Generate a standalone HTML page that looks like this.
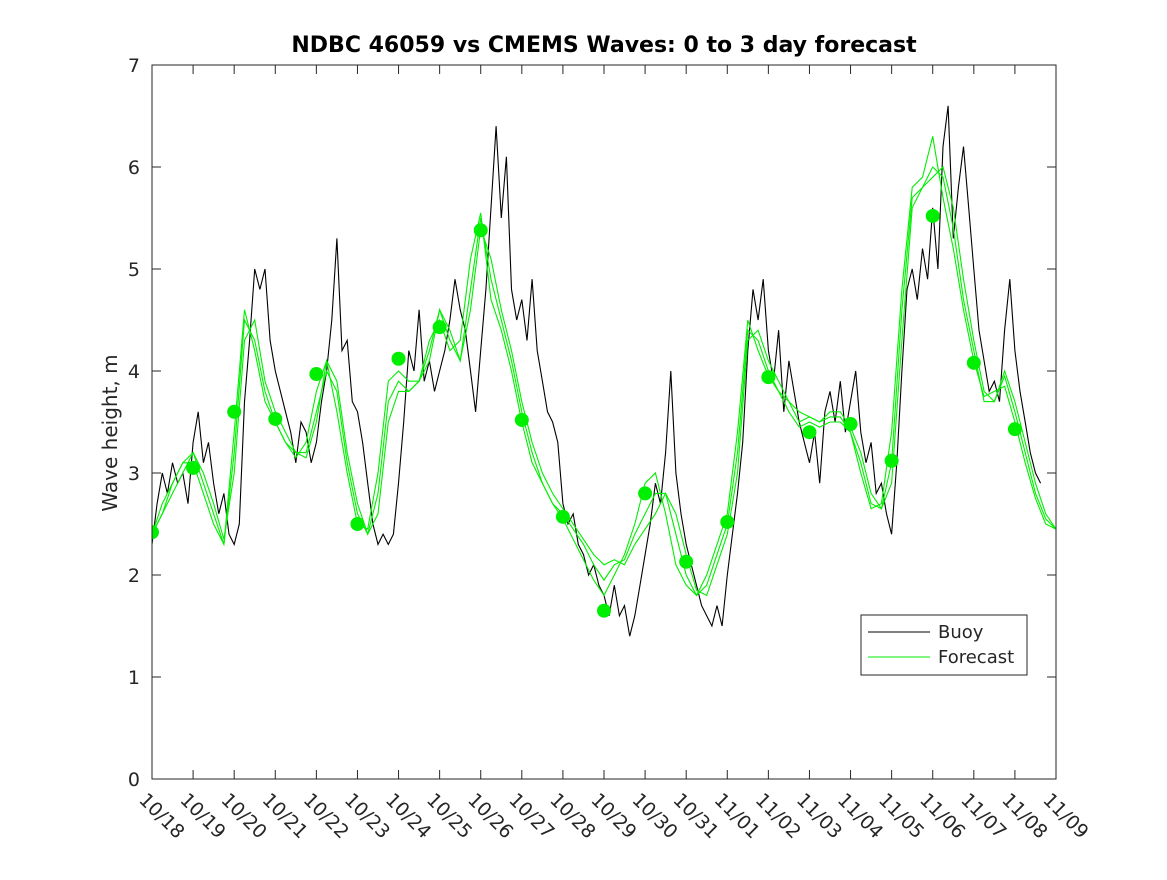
<!DOCTYPE html>
<html><head><meta charset="utf-8"><style>
body{margin:0;background:#fff;}
svg text{font-family:"DejaVu Sans","Liberation Sans",sans-serif;fill:#262626;}
</style></head><body>
<svg id="chart" width="1167" height="875" xmlns="http://www.w3.org/2000/svg">
<rect width="1167" height="875" fill="#fff"/>
<text x="604" y="52" text-anchor="middle" font-size="22" font-weight="bold" style="fill:#000">NDBC 46059 vs CMEMS Waves: 0 to 3 day forecast</text>
<text transform="translate(117,433) rotate(-90)" text-anchor="middle" font-size="20">Wave height, m</text>
<g id="grid"></g>
<defs><clipPath id="pc"><rect x="152" y="65" width="904" height="714"/></clipPath></defs>
<g id="marks" clip-path="url(#pc)"></g>
<rect x="152" y="65" width="904" height="714" fill="none" stroke="#262626" stroke-width="1"/>
<g>
<rect x="861" y="615" width="166" height="60" fill="#fff" stroke="#262626"/>
<line x1="868" y1="632" x2="930" y2="632" stroke="#000"/>
<text x="938" y="638" font-size="18">Buoy</text>
<line x1="868" y1="657" x2="930" y2="657" stroke="#00ee00"/>
<text x="938" y="663" font-size="18">Forecast</text>
</g>
</svg>
<script>
const xTickLabels=["10/18","10/19","10/20","10/21","10/22","10/23","10/24","10/25","10/26","10/27","10/28","10/29","10/30","10/31","11/01","11/02","11/03","11/04","11/05","11/06","11/07","11/08","11/09"];
const yTicks=[0,1,2,3,4,5,6,7];
const dotValues=[2.42,3.05,3.6,3.53,3.97,2.5,4.12,4.43,5.38,3.52,2.57,1.65,2.8,2.13,2.52,3.94,3.4,3.48,3.12,5.52,4.08,3.43];
const forecastA=[2.4,2.7,2.9,3.1,3.1,2.8,2.5,2.3,3.4,4.6,4.2,3.7,3.5,3.3,3.15,3.3,3.8,4.1,3.6,3.0,2.5,2.45,3.0,3.9,4.0,3.9,3.9,4.3,4.5,4.2,4.3,5.1,5.55,4.7,4.4,4.0,3.5,3.1,2.9,2.7,2.55,2.35,2.15,1.95,1.8,2.0,2.2,2.5,2.9,3.0,2.6,2.1,1.9,1.8,2.0,2.3,2.6,3.4,4.5,4.2,3.95,3.8,3.6,3.45,3.5,3.45,3.5,3.5,3.4,3.0,2.65,2.7,3.4,4.8,5.8,5.9,6.3,5.7,5.2,4.6,4.1,3.75,3.8,3.85,3.5,3.1,2.75,2.5,2.45];
const forecastB=[2.4,2.6,2.9,3.1,3.2,2.9,2.6,2.3,3.2,4.5,4.3,3.8,3.5,3.3,3.2,3.2,3.6,4.0,3.8,3.1,2.6,2.4,2.8,3.7,3.9,3.8,3.9,4.2,4.6,4.3,4.1,4.8,5.5,4.9,4.5,4.1,3.6,3.2,2.9,2.7,2.6,2.45,2.3,2.1,1.95,2.1,2.15,2.4,2.6,2.8,2.8,2.4,2.0,1.8,1.9,2.2,2.5,3.2,4.4,4.3,4.0,3.8,3.7,3.5,3.55,3.5,3.55,3.55,3.4,3.1,2.7,2.65,3.1,4.6,5.7,5.8,6.0,5.9,5.4,4.7,4.2,3.7,3.7,3.95,3.6,3.2,2.8,2.55,2.45];
const forecastC=[2.4,2.6,2.8,3.0,3.2,3.0,2.7,2.35,3.0,4.3,4.5,3.9,3.6,3.4,3.2,3.15,3.5,4.1,3.9,3.2,2.7,2.4,2.6,3.5,3.8,3.8,3.9,4.1,4.6,4.4,4.1,4.6,5.4,5.1,4.6,4.2,3.7,3.3,3.0,2.8,2.65,2.5,2.35,2.2,2.1,2.15,2.1,2.3,2.45,2.6,2.8,2.6,2.2,1.85,1.8,2.1,2.4,3.0,4.3,4.4,4.1,3.9,3.7,3.6,3.55,3.5,3.6,3.6,3.45,3.2,2.8,2.65,2.9,4.3,5.6,5.8,5.9,6.0,5.6,4.9,4.3,3.8,3.7,4.0,3.7,3.3,2.9,2.6,2.45];
const buoy=[2.3,2.7,3.0,2.8,3.1,2.9,3.0,2.7, 3.3,3.6,3.1,3.3,2.9,2.6,2.8,2.4, 2.3,2.5,3.7,4.3,5.0,4.8,5.0,4.3, 4.0,3.8,3.6,3.4,3.1,3.5,3.4,3.1, 3.3,3.7,4.0,4.5,5.3,4.2,4.3,3.7, 3.6,3.3,2.9,2.5,2.3,2.4,2.3,2.4, 2.9,3.5,4.2,4.0,4.6,3.9,4.1,3.8, 4.0,4.2,4.5,4.9,4.6,4.4,4.0,3.6, 4.2,4.8,5.6,6.4,5.5,6.1,4.8,4.5, 4.7,4.3,4.9,4.2,3.9,3.6,3.5,3.3, 2.7,2.5,2.6,2.3,2.2,2.0,2.1,1.9, 1.8,1.6,1.9,1.6,1.7,1.4,1.6,1.9, 2.2,2.5,2.9,2.7,3.2,4.0,3.0,2.6, 2.3,2.1,1.9,1.7,1.6,1.5,1.7,1.5, 2.0,2.4,2.8,3.3,4.2,4.8,4.5,4.9, 4.2,3.9,4.4,3.6,4.1,3.8,3.5,3.3, 3.1,3.4,2.9,3.6,3.8,3.5,3.9,3.4, 3.7,4.0,3.4,3.1,3.3,2.8,2.9,2.6, 2.4,3.1,4.0,4.8,5.0,4.7,5.2,4.9, 5.6,5.0,6.2,6.6,5.3,5.8,6.2,5.6, 5.0,4.4,4.1,3.8,3.9,3.7,4.4,4.9, 4.2,3.8,3.5,3.2,3.0,2.9];

const NS="http://www.w3.org/2000/svg";
const X0=152,X1=1056,Y0=779,Y1=65,DAYS=22,YMAX=7;
const xs=t=>X0+(X1-X0)*t/DAYS;
const ys=v=>Y0-(Y0-Y1)*v/YMAX;
const grid=document.getElementById('grid'),marks=document.getElementById('marks');
function mk(tag,attrs,parent){const e=document.createElementNS(NS,tag);for(const k in attrs)e.setAttribute(k,attrs[k]);parent.appendChild(e);return e;}
xTickLabels.forEach((lab,i)=>{
  const x=xs(i);
  const t1=mk('line',{x1:x,y1:Y0,x2:x,y2:Y0-9,stroke:'#262626'},grid);
  
  
  mk('line',{x1:x,y1:Y1,x2:x,y2:Y1+9,stroke:'#262626'},grid);
  const tx=mk('text',{x:x-14,y:Y0+22,'font-size':19,transform:`rotate(45 ${x-14} ${Y0+22})`},grid);
  tx.textContent=lab;
  
  
});
yTicks.forEach(v=>{
  const y=ys(v);
  const t1=mk('line',{x1:X0,y1:y,x2:X0+9,y2:y,stroke:'#262626'},grid);
  
  
  mk('line',{x1:X1,y1:y,x2:X1-9,y2:y,stroke:'#262626'},grid);
  const tx=mk('text',{x:X0-12,y:y+7,'font-size':19,'text-anchor':'end'},grid);
  tx.textContent=v;
  
  
});
function line(arr,step,color,name){
  const p=mk('polyline',{points:arr.map((v,i)=>xs(i*step).toFixed(1)+','+ys(v).toFixed(1)).join(' '),fill:'none',stroke:color,'stroke-width':1.1},marks);
  
  
}
line(buoy,0.125,'#000','buoy-line');
line(forecastC,0.25,'#00ee00','forecast-line-c');
line(forecastB,0.25,'#00ee00','forecast-line-b');
line(forecastA,0.25,'#00ee00','forecast-line-a');
dotValues.forEach((v,i)=>{
  const c=mk('circle',{cx:xs(i),cy:ys(v),r:7,fill:'#00ee00'},marks);
  
  
});
</script>
</body></html>
